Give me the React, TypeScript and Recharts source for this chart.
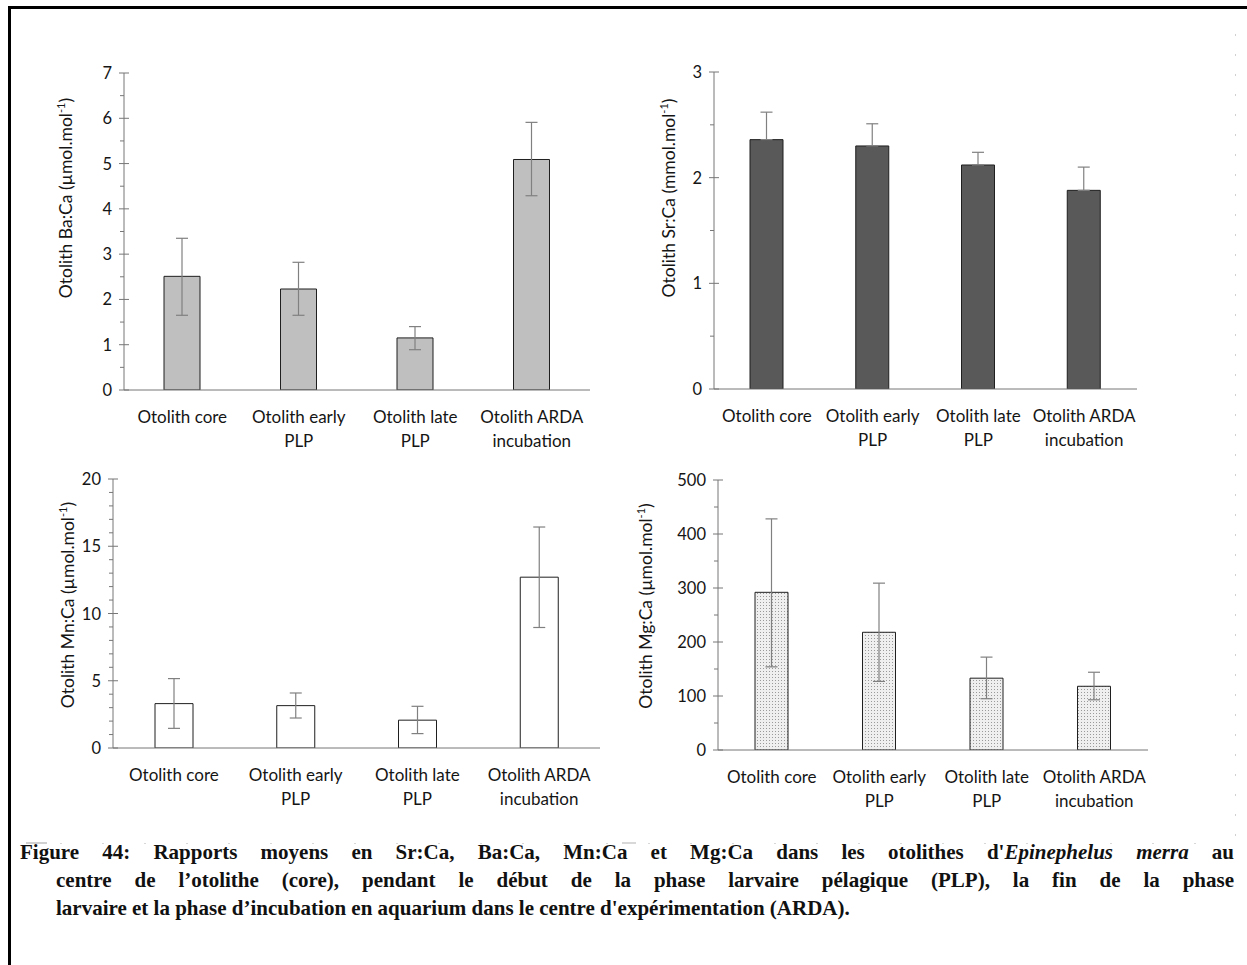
import React from 'react';
import { BarChart, Bar, XAxis, YAxis, ErrorBar } from 'recharts';

// ---------- DATA ----------
const categories = ['Otolith core', 'Otolith early PLP', 'Otolith late PLP', 'Otolith ARDA incubation'];
const categoryLines = [['Otolith core'], ['Otolith early', 'PLP'], ['Otolith late', 'PLP'], ['Otolith ARDA', 'incubation']];

const baMean = [2.51, 2.23, 1.15, 5.09];
const baLow = [1.65, 1.65, 0.89, 4.29];
const baHigh = [3.35, 2.82, 1.4, 5.91];

const srMean = [2.36, 2.3, 2.12, 1.88];
const srHigh = [2.62, 2.51, 2.24, 2.1];

const mnMean = [3.3, 3.15, 2.07, 12.7];
const mnLow = [1.46, 2.23, 1.07, 8.96];
const mnHigh = [5.16, 4.09, 3.1, 16.43];

const mgMean = [292, 218, 133, 118];
const mgLow = [154, 127, 95, 93];
const mgHigh = [428, 309, 172, 144];

const baTicks = [0, 1, 2, 3, 4, 5, 6, 7];
const baMinor = [0.5, 1.5, 2.5, 3.5, 4.5, 5.5, 6.5];
const srTicks = [0, 1, 2, 3];
const srMinor = [0.5, 1.5, 2.5];
const mnTicks = [0, 5, 10, 15, 20];
const mnMinor = [1, 2, 3, 4, 6, 7, 8, 9, 11, 12, 13, 14, 16, 17, 18, 19];
const mgTicks = [0, 100, 200, 300, 400, 500];
const mgMinor = [50, 150, 250, 350, 450];

const FONT = 'Lato, "Open Sans", sans-serif';
const AXIS_COLOR = '#777777';
const ERR_COLOR = '#808080';
const TEXT_COLOR = '#151515';

function buildData(mean: number[], low: number[] | null, high: number[]) {
  return categories.map((c, i) => ({
    name: c,
    idx: i,
    mean: mean[i],
    err: [low ? mean[i] - low[i] : 0, high[i] - mean[i]],
  }));
}

type PanelProps = {
  left: number; top: number; width: number; height: number;
  axisX: number; plotRight: number; plotTop: number; plotBottom: number;
  data: any[]; fill: string; barSize: number;
  ticks: number[]; minor: number[]; domain: [number, number];
  labelMain: string; labelX: number; labelY: number;
};

const Y_W = 50;
const X_H = 70;

function Panel(p: PanelProps) {
  const axisLocal = p.axisX - p.left;
  const marginLeft = axisLocal - Y_W;
  const marginTop = p.plotTop - p.top;
  const marginRight = p.left + p.width - p.plotRight;
  const zeroLocal = p.plotBottom - p.top;
  const marginBottom = p.height - zeroLocal - X_H;
  const allTicks = [...p.ticks, ...p.minor].sort((a, b) => a - b);

  const yTick = (props: any) => {
    const { y, payload } = props;
    const v = payload.value;
    const major = p.ticks.includes(v);
    return (
      <g>
        {major ? (
          <line x1={axisLocal - 5} x2={axisLocal + 5} y1={y} y2={y} stroke={AXIS_COLOR} strokeWidth={1} />
        ) : (
          <line x1={axisLocal - 4} x2={axisLocal} y1={y} y2={y} stroke={AXIS_COLOR} strokeWidth={1} />
        )}
        {major && (
          <text x={axisLocal - 12} y={y} dy={6} textAnchor="end" fontSize={16.5} fill={TEXT_COLOR} fontFamily={FONT}>
            {v}
          </text>
        )}
      </g>
    );
  };

  const xTick = (props: any) => {
    const { x, payload } = props;
    const i = categories.indexOf(payload.value);
    const lines = categoryLines[i] || [payload.value];
    return (
      <g>
        {lines.map((l, k) => (
          <text key={k} x={x} y={zeroLocal + 33 + k * 24} textAnchor="middle" fontSize={17} fill={TEXT_COLOR} fontFamily={FONT}>
            {l}
          </text>
        ))}
      </g>
    );
  };

  const yLabel = () => (
    <text
      transform={`translate(${p.labelX - p.left}, ${p.labelY - p.top}) rotate(-90)`}
      textAnchor="middle"
      fontSize={17.5}
      fill={TEXT_COLOR}
      fontFamily={FONT}
    >
      {p.labelMain}
      <tspan fontSize={11} dy={-7}>-1</tspan>
      <tspan dy={7}>)</tspan>
    </text>
  );

  return (
    <div style={{ position: 'absolute', left: p.left, top: p.top, width: p.width, height: p.height }}>
      <BarChart
        width={p.width}
        height={p.height}
        data={p.data}
        margin={{ left: marginLeft, top: marginTop, right: marginRight, bottom: marginBottom }}
      >
        <XAxis
          dataKey="name"
          height={X_H}
          axisLine={{ stroke: AXIS_COLOR, strokeWidth: 1 }}
          tickLine={false}
          tick={xTick}
          interval={0}
        />
        <YAxis
          type="number"
          width={Y_W}
          domain={p.domain}
          ticks={allTicks}
          interval={0}
          allowDataOverflow
          axisLine={{ stroke: AXIS_COLOR, strokeWidth: 1 }}
          tickLine={false}
          tick={yTick}
          label={{ content: yLabel }}
        />
        <Bar dataKey="mean" fill={p.fill} stroke="#1f1f1f" strokeWidth={1} barSize={p.barSize} isAnimationActive={false}>
          <ErrorBar dataKey="err" width={6} stroke={ERR_COLOR} strokeWidth={1.2} direction="y" />
        </Bar>
      </BarChart>
    </div>
  );
}

export default function App() {
  const dotsV = [] as number[];
  for (let y = 34; y <= 843; y += 20) dotsV.push(y);
  const dotsH = [] as number[];
  for (let x = 60; x <= 1230; x += 42) dotsH.push(x);

  return (
    <div style={{ position: 'absolute', left: 0, top: 0, width: 1247, height: 965, background: '#fff', overflow: 'hidden' }}>
      <svg width={0} height={0} style={{ position: 'absolute' }}>
        <defs>
          <pattern id="stipple" width={3} height={3} patternUnits="userSpaceOnUse">
            <rect width={3} height={3} fill="#efefef" />
            <rect x={1} y={1} width={1} height={1} fill="#9a9a9a" />
          </pattern>
        </defs>
      </svg>

      {/* frame */}
      <div style={{ position: 'absolute', left: 8, top: 6, width: 1239, height: 3, background: '#000' }} />
      <div style={{ position: 'absolute', left: 8, top: 6, width: 3, height: 959, background: '#000' }} />

      {/* faint remnants of chart borders */}
      <svg width={1247} height={965} style={{ position: 'absolute', left: 0, top: 0 }}>
        {dotsV.map((y) => (
          <rect key={'v' + y} x={1235} y={y} width={1} height={2} fill="#cfcfcf" />
        ))}
        {dotsH.map((x) => (
          <rect key={'h' + x} x={x} y={843} width={2} height={1} fill="#d8d8d8" />
        ))}
        <rect x={26} y={842} width={21} height={2} fill="#d0d0d0" />
        <rect x={622} y={842} width={14} height={2} fill="#d8d8d8" />
      </svg>

      <Panel
        left={12} top={20} width={600} height={440}
        axisX={124} plotRight={590} plotTop={73} plotBottom={390}
        data={buildData(baMean, baLow, baHigh)} fill="#bfbfbf" barSize={36}
        ticks={baTicks} minor={baMinor} domain={[0, 7]}
        labelMain="Otolith Ba:Ca (µmol.mol" labelX={72} labelY={198}
      />
      <Panel
        left={612} top={20} width={600} height={440}
        axisX={714} plotRight={1137} plotTop={72} plotBottom={389}
        data={buildData(srMean, null, srHigh)} fill="#595959" barSize={33}
        ticks={srTicks} minor={srMinor} domain={[0, 3]}
        labelMain="Otolith Sr:Ca (mmol.mol" labelX={675} labelY={198}
      />
      <Panel
        left={12} top={460} width={600} height={380}
        axisX={113} plotRight={600} plotTop={479} plotBottom={748}
        data={buildData(mnMean, mnLow, mnHigh)} fill="#ffffff" barSize={38}
        ticks={mnTicks} minor={mnMinor} domain={[0, 20]}
        labelMain="Otolith Mn:Ca (µmol.mol" labelX={74} labelY={605}
      />
      <Panel
        left={612} top={460} width={600} height={380}
        axisX={718} plotRight={1148} plotTop={480} plotBottom={750}
        data={buildData(mgMean, mgLow, mgHigh)} fill="url(#stipple)" barSize={33}
        ticks={mgTicks} minor={mgMinor} domain={[0, 500]}
        labelMain="Otolith Mg:Ca (µmol.mol" labelX={652} labelY={606}
      />

      {/* caption */}
      <div
        style={{
          position: 'absolute', left: 20, top: 838, width: 1214,
          fontFamily: '"Liberation Serif", "DejaVu Serif", serif', fontWeight: 'bold',
          fontSize: 21, lineHeight: '28px', color: '#111',
        }}
      >
        <div style={{ textAlign: 'justify', textAlignLast: 'justify' }}>
          Figure 44: Rapports moyens en Sr:Ca, Ba:Ca, Mn:Ca et Mg:Ca dans les otolithes d'<i>Epinephelus merra</i> au
        </div>
        <div style={{ paddingLeft: 36, textAlign: 'justify', textAlignLast: 'justify' }}>
          centre de l’otolithe (core), pendant le début de la phase larvaire pélagique (PLP), la fin de la phase
        </div>
        <div style={{ paddingLeft: 36 }}>
          larvaire et la phase d’incubation en aquarium dans le centre d'expérimentation (ARDA).
        </div>
      </div>
    </div>
  );
}
